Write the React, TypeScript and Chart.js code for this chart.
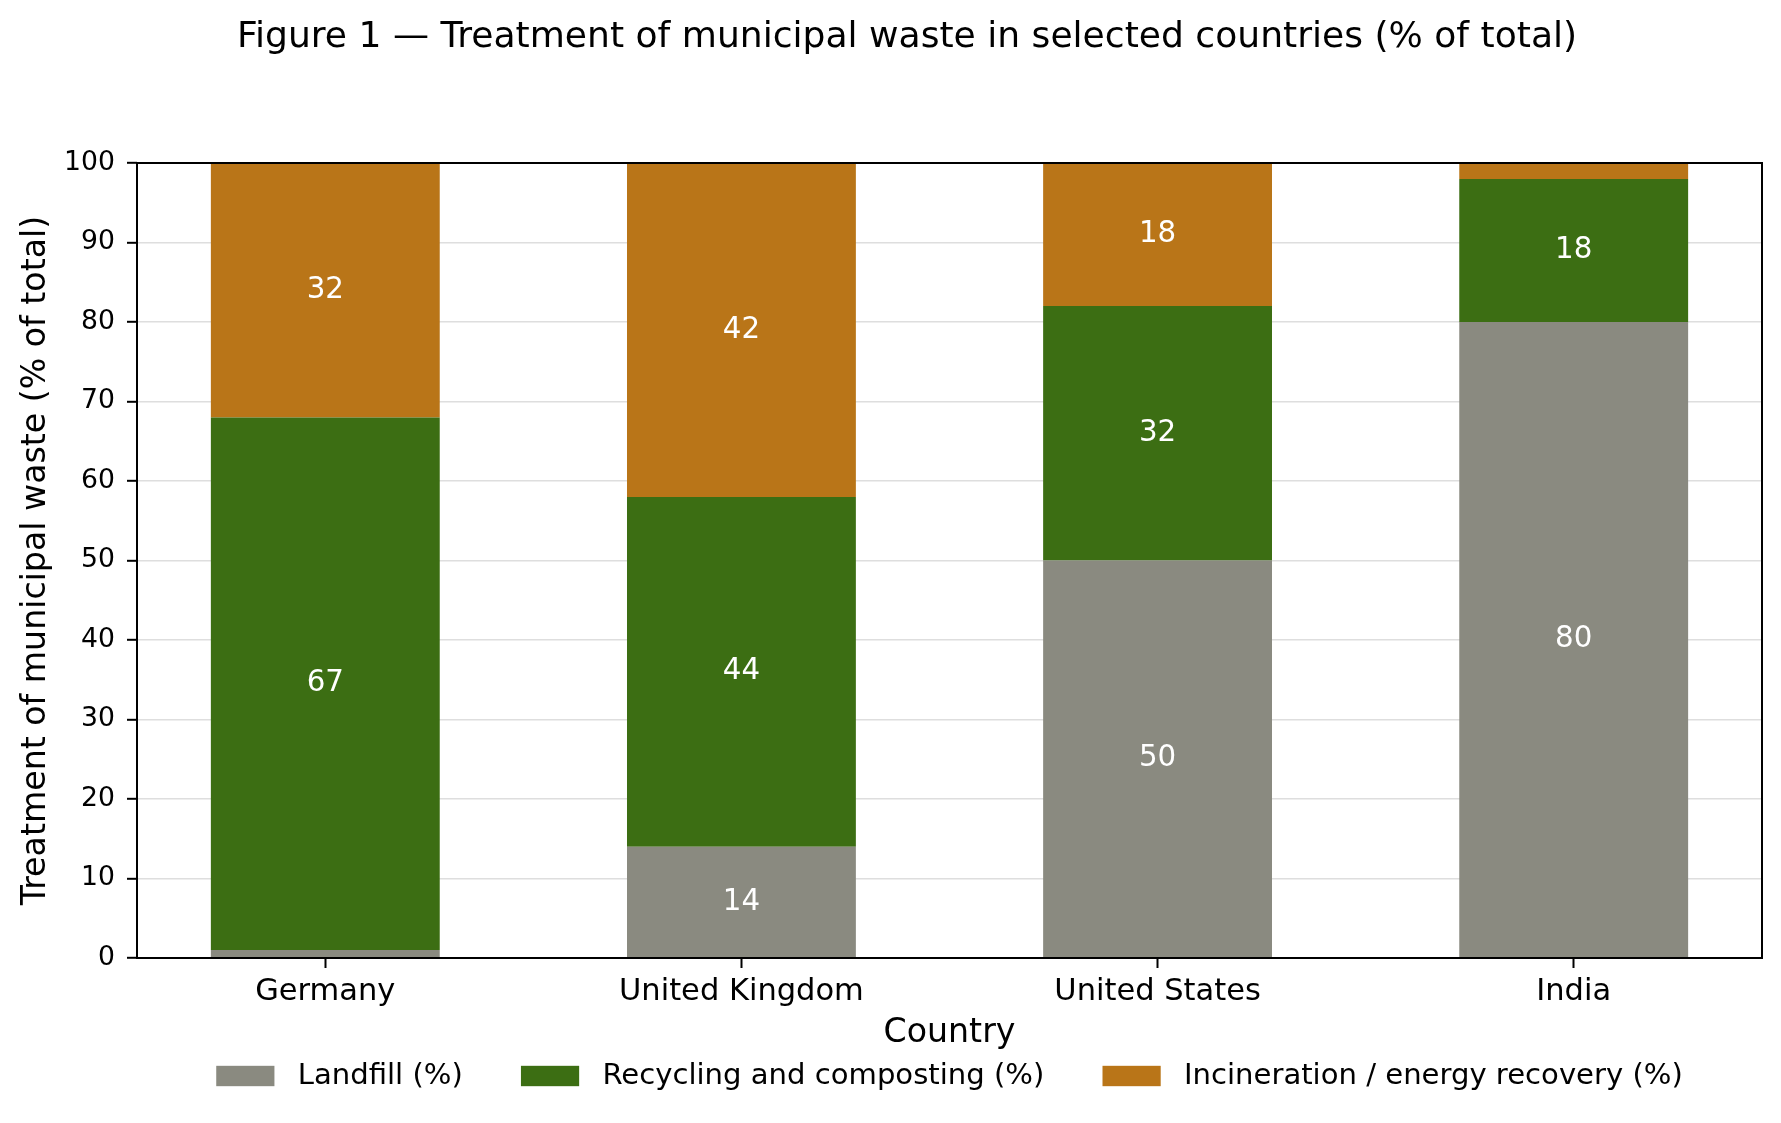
import React, { useEffect, useRef } from "react";
import { Chart, registerables } from "chart.js";

Chart.register(...registerables);

// Share of municipal waste by treatment route, per country (% of total)
const countries = ["Germany", "United Kingdom", "United States", "India"];
const landfillPct = [1, 14, 50, 80];
const recyclingPct = [67, 44, 32, 18];
const incinerationPct = [32, 42, 18, 2];

const seriesLabels = [
  "Landfill (%)",
  "Recycling and composting (%)",
  "Incineration / energy recovery (%)",
];
const seriesColors = ["#8a8a80", "#3c6e13", "#b97518"];
const yTickValues = [0, 10, 20, 30, 40, 50, 60, 70, 80, 90, 100];

const TITLE = "Figure 1 \u2014 Treatment of municipal waste in selected countries (% of total)";
const Y_TITLE = "Treatment of municipal waste (% of total)";
const X_TITLE = "Country";

const FONT = "'DejaVu Sans', 'Liberation Sans', sans-serif";
const BAR_WIDTH = 0.55;
const X_MARGIN = BAR_WIDTH / 2 + 0.05 * (countries.length - 1 + BAR_WIDTH);
const LABEL_MIN = 5;

const W = 1781;
const H = 1123;

// Figure heading across the top of the canvas
const heading = {
  id: "heading",
  afterDraw(chart: any) {
    const { ctx } = chart;
    ctx.save();
    ctx.font = `36.1px ${FONT}`;
    ctx.fillStyle = "#000";
    ctx.textAlign = "center";
    ctx.textBaseline = "middle";
    ctx.fillText(TITLE, 907, 38);
    ctx.restore();
  },
};

// White value labels centred in each stacked segment
const segmentLabels = {
  id: "segmentLabels",
  afterDatasetsDraw(chart: any) {
    const { ctx } = chart;
    ctx.save();
    ctx.font = `29.3px ${FONT}`;
    ctx.fillStyle = "#ffffff";
    ctx.textAlign = "center";
    ctx.textBaseline = "middle";
    chart.data.datasets.forEach((ds: any, di: number) => {
      const meta = chart.getDatasetMeta(di);
      meta.data.forEach((el: any, i: number) => {
        const v = ds.data[i].y;
        if (v < LABEL_MIN) return;
        const p = el.getProps(["x", "y", "base"], true);
        ctx.fillText(String(Math.round(v)), p.x, (p.y + p.base) / 2);
      });
    });
    ctx.restore();
  },
};

// Full black frame around the plotting area
const frame = {
  id: "frame",
  afterDatasetsDraw(chart: any) {
    const { ctx, chartArea: a } = chart;
    ctx.save();
    ctx.strokeStyle = "#000";
    ctx.lineWidth = 2;
    ctx.strokeRect(a.left, a.top, a.right - a.left, a.bottom - a.top);
    ctx.restore();
  },
};

// Single-row legend below the x-axis title
const bottomLegend = {
  id: "bottomLegend",
  afterDraw(chart: any) {
    const { ctx, chartArea: a } = chart;
    const size = 29.1;
    const boxW = 2 * size;
    const boxH = 0.7 * size;
    const gap = 0.8 * size;
    const colGap = 2 * size;
    ctx.save();
    ctx.font = `${size}px ${FONT}`;
    const widths = seriesLabels.map((t) => ctx.measureText(t).width);
    const total =
      widths.reduce((s, w) => s + boxW + gap + w, 0) + colGap * (seriesLabels.length - 1);
    let x = (a.left + a.right) / 2 - total / 2;
    const cy = a.bottom + 118;
    ctx.textBaseline = "middle";
    ctx.textAlign = "left";
    seriesLabels.forEach((t, k) => {
      ctx.fillStyle = seriesColors[k];
      ctx.fillRect(x, cy - boxH / 2, boxW, boxH);
      ctx.fillStyle = "#000";
      ctx.fillText(t, x + boxW + gap, cy);
      x += boxW + gap + widths[k] + colGap;
    });
    ctx.restore();
  },
};

export default function App() {
  const canvasRef = useRef<HTMLCanvasElement | null>(null);

  useEffect(() => {
    document.body.style.margin = "0";
    const canvas = canvasRef.current;
    if (!canvas) return;
    const series = [landfillPct, recyclingPct, incinerationPct];
    const chart = new Chart(canvas, {
      type: "bar",
      data: {
        datasets: series.map((vals, k) => ({
          label: seriesLabels[k],
          data: vals.map((v, i) => ({ x: i, y: v })),
          backgroundColor: seriesColors[k],
          borderWidth: 0,
          categoryPercentage: 1,
          barPercentage: BAR_WIDTH,
        })),
      },
      options: {
        responsive: false,
        animation: false,
        devicePixelRatio: 1,
        layout: { padding: { left: 0, right: 19, top: 163, bottom: 70 } },
        plugins: {
          legend: { display: false },
          tooltip: { enabled: false },
          title: { display: false },
        },
        scales: {
          x: {
            type: "linear",
            stacked: true,
            offset: false,
            bounds: "data",
            min: -X_MARGIN,
            max: countries.length - 1 + X_MARGIN,
            afterBuildTicks: (s: any) => {
              s.ticks = countries.map((_, i) => ({ value: i }));
            },
            afterFit: (s: any) => {
              s.height = 95;
            },
            ticks: {
              autoSkip: false,
              maxRotation: 0,
              color: "#000",
              padding: 5.3,
              font: { family: FONT, size: 30.5 },
              callback: (v: any) => countries[Math.round(Number(v))],
            },
            grid: {
              offset: false,
              drawOnChartArea: false,
              drawTicks: true,
              tickLength: 10,
              tickWidth: 2,
              tickColor: "#000",
              color: "#000",
            },
            border: { display: false },
            title: {
              display: true,
              text: X_TITLE,
              color: "#000",
              font: { family: FONT, size: 33.2 },
              padding: { top: 0, bottom: 0 },
            },
          },
          y: {
            type: "linear",
            stacked: true,
            min: 0,
            max: 100,
            afterBuildTicks: (s: any) => {
              s.ticks = yTickValues.map((v) => ({ value: v }));
            },
            afterFit: (s: any) => {
              s.width = 137;
            },
            ticks: {
              color: "#000",
              padding: 12,
              font: { family: FONT, size: 26.67 },
            },
            grid: {
              color: "#dedede",
              lineWidth: 1.6,
              tickLength: 10,
              tickWidth: 2,
              tickColor: "#000",
            },
            border: { display: false },
            title: {
              display: true,
              text: Y_TITLE,
              color: "#000",
              font: { family: FONT, size: 33.2 },
              padding: { top: 16.8, bottom: 0 },
            },
          },
        },
      },
      plugins: [segmentLabels, frame, bottomLegend, heading],
    } as any);
    return () => chart.destroy();
  }, []);

  return (
    <div style={{ width: W, height: H, position: "relative", background: "#fff" }}>
      <canvas ref={canvasRef} width={W} height={H} style={{ display: "block" }} />
    </div>
  );
}
